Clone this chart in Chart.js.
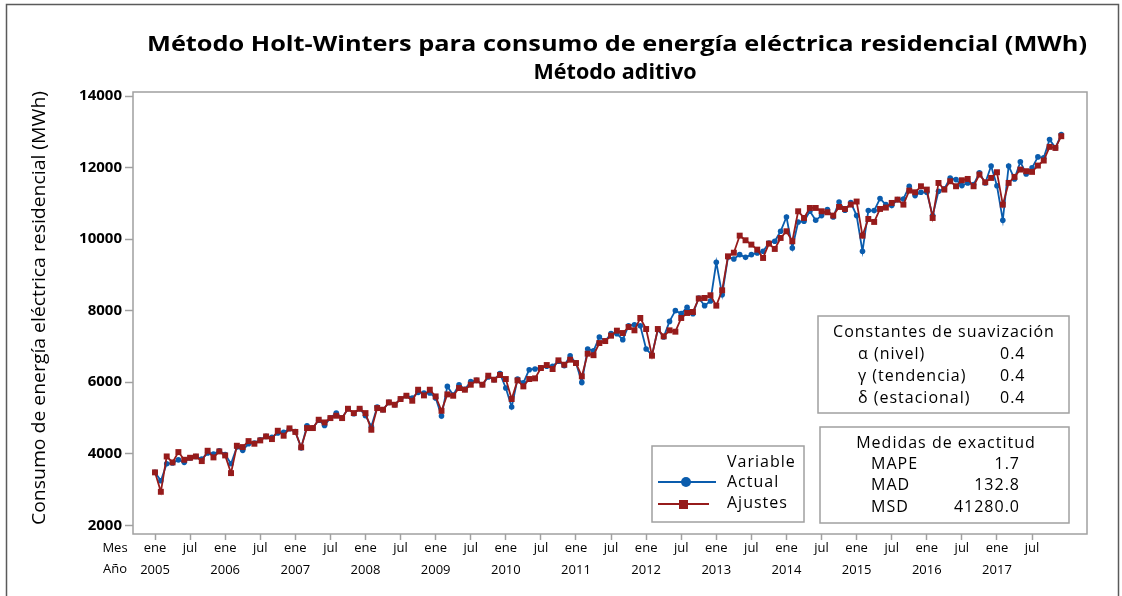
<!DOCTYPE html>
<html>
<head>
<meta charset="utf-8">
<script src="https://cdn.jsdelivr.net/npm/chart.js@4.4.1/dist/chart.umd.min.js"></script>
<style>
    html, body { margin: 0; padding: 0; background: #fff; }
    #wrap { width: 1122px; height: 596px; }
</style>
</head>
<body>
<div id="wrap"><canvas id="chart" width="1122" height="596"></canvas></div>
<script>
// serie mensual ene 2005 - dic 2017
const startYear = 2005
const tickMonths = ["ene", "jul"]
const yTicks = [2000, 4000, 6000, 8000, 10000, 12000, 14000]

const actual = [
    3480, 3245, 3720, 3740, 3830, 3760, 3880, 3925, 3850, 4020, 3990, 4085,
    3980, 3720, 4190, 4095, 4280, 4300, 4390, 4485, 4460, 4580, 4600, 4700,
    4620, 4165, 4780, 4720, 4940, 4790, 5000, 5140, 5000, 5260, 5120, 5260,
    5065, 4765, 5305, 5230, 5435, 5370, 5530, 5620, 5560, 5715, 5700, 5700,
    5560, 5055, 5883, 5640, 5930, 5800, 6020, 6050, 5930, 6145, 6070, 6240,
    5840, 5305, 6090, 5980, 6350, 6370, 6400, 6445, 6445, 6585, 6460, 6740,
    6535, 5995, 6930, 6875, 7263, 7150, 7357, 7357, 7190, 7580, 7608, 7580,
    6930, 6760, 7470, 7265, 7700, 8000, 7916, 8093, 7916, 8354, 8140, 8270,
    9352, 8447, 9500, 9445, 9566, 9490, 9566, 9613, 9659, 9892, 9939, 10219,
    10619, 9753, 10480, 10498, 10778, 10526, 10657, 10825, 10619, 11039, 10806, 11020,
    10657, 9659, 10797, 10797, 11132, 10964, 10936, 11104, 11123, 11477, 11216, 11309,
    11309, 10657, 11337, 11403, 11710, 11664, 11496, 11570, 11524, 11850, 11570, 12045,
    11490, 10527, 12045, 11683, 12160, 11823, 11991, 12298, 12270, 12783, 12550, 12923
]

const ajustes = [
    3480, 2937, 3925, 3758, 4047, 3832, 3888, 3925, 3795, 4084, 3898, 4065,
    3953, 3459, 4224, 4187, 4354, 4280, 4373, 4485, 4410, 4643, 4504, 4710,
    4610, 4180, 4718, 4718, 4951, 4876, 4997, 5063, 4997, 5258, 5137, 5258,
    5137, 4671, 5277, 5231, 5436, 5370, 5529, 5622, 5482, 5790, 5631, 5790,
    5603, 5200, 5660, 5622, 5837, 5790, 5930, 6051, 5930, 6182, 6070, 6200,
    6089, 5529, 6051, 5883, 6089, 6107, 6396, 6480, 6368, 6611, 6489, 6629,
    6536, 6163, 6797, 6755, 7095, 7150, 7300, 7441, 7375, 7543, 7450, 7795,
    7487, 6741, 7487, 7282, 7450, 7412, 7795, 7935, 7963, 8340, 8354, 8430,
    8140, 8569, 9519, 9620, 10097, 9967, 9846, 9706, 9473, 9874, 9725, 10032,
    10219, 9939, 10778, 10591, 10871, 10871, 10778, 10750, 10657, 10899, 10843, 10964,
    11050, 10097, 10563, 10480, 10843, 10881, 11011, 11104, 10964, 11356, 11309, 11477,
    11384, 10591, 11570, 11384, 11617, 11477, 11645, 11682, 11477, 11804, 11589, 11710,
    11869, 10964, 11571, 11739, 11944, 11898, 11879, 12056, 12196, 12578, 12550, 12876
]

const constantes = [["α (nivel)", "0.4"], ["γ (tendencia)", "0.4"], ["δ (estacional)", "0.4"]]
const medidas = [["MAPE", "1.7"], ["MAD", "132.8"], ["MSD", "41280.0"]]

const azul = "#0a5cad"
const rojo = "#961b1b"
const gris = "#a0a0a0"
const fuente = "'Open Sans', 'DejaVu Sans', sans-serif"

const toPoints = arr => arr.map((v, i) => ({ x: i, y: v }))

// texto estirado para ocupar un ancho dado
const fitText = (ctx, text, x, y, width) => {
    ctx.letterSpacing = "0px"
    const k = width / ctx.measureText(text).width
    ctx.save()
    ctx.translate(x, y)
    ctx.scale(k, 1)
    ctx.textAlign = "center"
    ctx.fillText(text, 0, 0)
    ctx.restore()
}

const decor = {
    id: "decor",
    beforeDraw(chart) {
        chart.ctx.letterSpacing = "0px"
    },
    afterDatasetsDraw(chart) {
        // etiquetas del eje y (z: 1) con espaciado
        chart.ctx.letterSpacing = "2.5px"
    },
    afterDraw(chart) {
        const ctx = chart.ctx
        const a = chart.chartArea
        ctx.letterSpacing = "0px"
        ctx.save()

        // marco exterior
        ctx.strokeStyle = "#5a5a5a"
        ctx.lineWidth = 1.5
        ctx.strokeRect(6.5, 4.5, 1112, 600)

        // borde del area
        ctx.strokeStyle = gris
        ctx.lineWidth = 1.5
        ctx.strokeRect(a.left, a.top, a.right - a.left, a.bottom - a.top)

        ctx.fillStyle = "#000"
        ctx.textBaseline = "middle"

        // titulos
        ctx.font = `bold 22px ${fuente}`
        fitText(ctx, "Método Holt-Winters para consumo de energía eléctrica residencial (MWh)", 617, 45, 940)
        fitText(ctx, "Método aditivo", 615, 73, 163)

        // titulo eje y
        ctx.save()
        ctx.translate(40, 308)
        ctx.rotate(-Math.PI / 2)
        ctx.font = `19px ${fuente}`
        fitText(ctx, "Consumo de energía eléctrica residencial (MWh)", 0, 0, 434)
        ctx.restore()

        // Mes / Año
        ctx.font = `13px ${fuente}`
        ctx.textAlign = "center"
        ctx.fillText("Mes", 115, 548)
        ctx.fillText("Año", 115, 569)

        ctx.font = `16px ${fuente}`
        ctx.letterSpacing = "1px"

        // leyenda
        ctx.strokeStyle = gris
        ctx.lineWidth = 1.5
        ctx.strokeRect(652, 446, 152, 76)
        ctx.textAlign = "left"
        ctx.fillText("Variable", 727, 462)
        ctx.fillText("Actual", 727, 482)
        ctx.fillText("Ajustes", 727, 503)
        ctx.lineWidth = 1.8
        ctx.strokeStyle = azul
        ctx.beginPath(); ctx.moveTo(658, 482); ctx.lineTo(716, 482); ctx.stroke()
        ctx.fillStyle = azul
        ctx.beginPath(); ctx.arc(686, 482, 5, 0, Math.PI * 2); ctx.fill()
        ctx.strokeStyle = rojo
        ctx.beginPath(); ctx.moveTo(658, 504); ctx.lineTo(709, 504); ctx.stroke()
        ctx.fillStyle = rojo
        ctx.fillRect(679, 500, 9, 9)

        // constantes
        ctx.fillStyle = "#000"
        ctx.strokeStyle = gris
        ctx.lineWidth = 1.5
        ctx.strokeRect(818, 316, 251, 97)
        ctx.textAlign = "center"
        ctx.fillText("Constantes de suavización", 944, 332)
        constantes.forEach((c, i) => {
            ctx.textAlign = "left"
            ctx.fillText(c[0], 858, 354 + i * 22)
            ctx.fillText(c[1], 1000, 354 + i * 22)
        })

        // medidas
        ctx.strokeRect(820, 427, 249, 96)
        ctx.textAlign = "center"
        ctx.fillText("Medidas de exactitud", 946, 443)
        medidas.forEach((m, i) => {
            ctx.textAlign = "left"
            ctx.fillText(m[0], 871, 464 + i * 21.5)
            ctx.textAlign = "right"
            ctx.fillText(m[1], 1020, 464 + i * 21.5)
        })

        ctx.restore()
        ctx.letterSpacing = "0px"
    }
}

new Chart("chart", {
    type: "line",
    data: {
        datasets: [{
            label: "Ajustes",
            data: toPoints(ajustes),
            borderColor: rojo,
            backgroundColor: rojo,
            borderWidth: 1.8,
            pointStyle: "rect",
            pointRadius: 4.2,
            pointBorderWidth: 0,
            order: 0
        },
        {
            label: "Actual",
            data: toPoints(actual),
            borderColor: azul,
            backgroundColor: azul,
            borderWidth: 1.8,
            pointStyle: "circle",
            pointRadius: 2.8,
            pointBorderWidth: 0,
            order: 1
        }]
    },
    options: {
        responsive: false,
        animation: false,
        layout: { padding: { left: 0, top: 92, right: 35, bottom: 0 } },
        plugins: {
            legend: { display: false },
            title: { display: false },
            tooltip: { enabled: false }
        },
        scales: {
            x: {
                type: "linear",
                min: -3.763,
                max: 159.4,
                afterFit: scale => { scale.height = 62 },
                afterBuildTicks: scale => {
                    const t = []
                    for (let i = 0; i < actual.length; i += 6) t.push({ value: i })
                    scale.ticks = t
                },
                grid: { drawOnChartArea: false, tickLength: 6, color: gris, tickWidth: 1.5 },
                border: { display: false },
                ticks: {
                    autoSkip: false,
                    maxRotation: 0,
                    padding: -2,
                    color: "#000",
                    font: { family: fuente, size: 13, lineHeight: 1.65 },
                    callback: v => v % 12 === 0 ? [tickMonths[0], String(startYear + v / 12)] : [tickMonths[1], ""]
                }
            },
            y: {
                z: 1,
                min: 1757,
                max: 14112,
                afterFit: scale => { scale.width = 133 },
                afterBuildTicks: scale => {
                    scale.ticks = yTicks.map(v => ({ value: v }))
                },
                grid: { drawOnChartArea: false, tickLength: 8, color: gris, tickWidth: 1.5 },
                border: { display: false },
                ticks: {
                    padding: 3,
                    color: "#000",
                    font: { family: fuente, size: 15, weight: "bold" },
                    callback: v => String(v)
                }
            }
        }
    },
    plugins: [decor]
})
</script>
</body>
</html>
